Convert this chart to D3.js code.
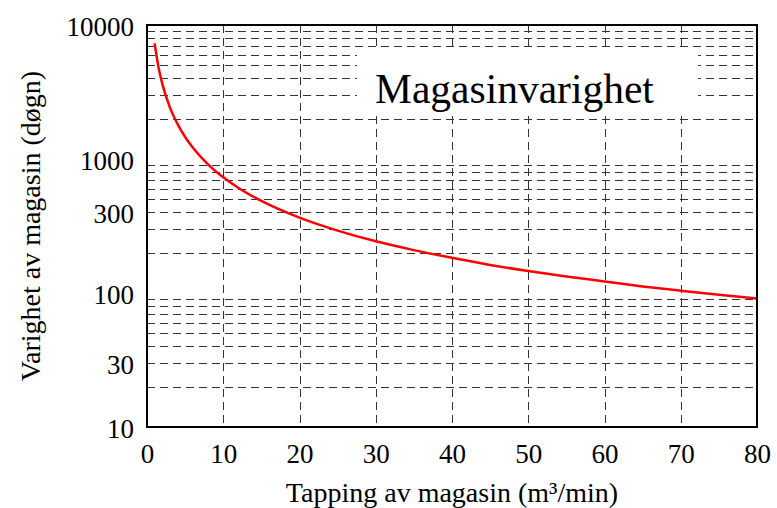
<!DOCTYPE html>
<html>
<head>
<meta charset="utf-8">
<script src="https://cdn.jsdelivr.net/npm/d3@7"></script>
<style>
  html, body { margin: 0; padding: 0; background: #fff; }
  svg { display: block; font-family: "Liberation Serif", "Times New Roman", serif; }
</style>
</head>
<body>
<svg id="chart" width="777" height="508"></svg>
<script>
// ── DATA ─────────────────────────────────────────────────────────────────────
const tapping  = [1, 1.5, 2, 3, 4, 5, 6, 8, 10, 12, 15, 20, 25, 30, 35, 40, 45, 50, 55, 60, 65, 70, 75, 80];
const varighet = [7300, 4870, 3650, 2430, 1830, 1460, 1220, 913, 730, 608, 487, 365, 292, 243, 209, 183, 162, 146, 133, 122, 112, 104, 97, 91];

const xTicks = [0, 10, 20, 30, 40, 50, 60, 70, 80];
const yTicks = [10, 30, 100, 300, 1000, 10000];
const yGrid  = [20, 30, 40, 50, 60, 70, 80, 90,
                200, 300, 400, 500, 600, 700, 800, 900,
                2000, 3000, 4000, 5000, 6000, 7000, 8000, 9000];

const title  = 'Magasinvarighet';
const xLabel = 'Tapping av magasin (m³/min)';
const yLabel = 'Varighet av magasin (døgn)';

// ── SETUP ────────────────────────────────────────────────────────────────────
const svg = d3.select('#chart');
const L = 147, R = 757, T = 25, B = 427;

const x = d3.scaleLinear().domain([0, 80]).range([L, R]);
const y = d3.scaleLog().domain([10, 10000]).range([B, T]);

const grid = svg.append('g').attr('class', 'grid')
  .attr('stroke', '#333').attr('stroke-width', 1)
  .attr('stroke-dasharray', '8,5').attr('fill', 'none');

grid.selectAll('line.h').data(yGrid).join('line').attr('class', 'h')
  .attr('x1', L).attr('x2', R)
  .attr('y1', d => Math.round(y(d)) + 0.5).attr('y2', d => Math.round(y(d)) + 0.5);

grid.selectAll('line.v').data(xTicks.slice(1, -1)).join('line').attr('class', 'v')
  .attr('y1', T).attr('y2', B)
  .attr('x1', d => Math.round(x(d)) + 0.5).attr('x2', d => Math.round(x(d)) + 0.5);

// title box hides the grid behind it
svg.append('rect')
  .attr('x', 357).attr('y', 48).attr('width', 341).attr('height', 68)
  .attr('fill', '#fff');

svg.append('text')
  .attr('x', 375).attr('y', 103)
  .attr('font-size', 41.5).attr('fill', '#000')
  .text(title);

// ── CURVE ────────────────────────────────────────────────────────────────────
const line = d3.line()
  .x((d, i) => x(tapping[i]))
  .y(d => y(d))
  .curve(d3.curveMonotoneX);

svg.append('path')
  .datum(varighet)
  .attr('d', line)
  .attr('fill', 'none')
  .attr('stroke', '#ff0000')
  .attr('stroke-width', 2.5);

// ── FRAME & AXES ─────────────────────────────────────────────────────────────
svg.append('rect')
  .attr('x', L).attr('y', T).attr('width', R - L).attr('height', B - T)
  .attr('fill', 'none').attr('stroke', '#000').attr('stroke-width', 2);

const xAxis = svg.append('g')
  .attr('transform', `translate(0,${B})`)
  .call(d3.axisBottom(x).tickValues(xTicks).tickSize(0).tickPadding(17).tickFormat(d3.format('d')));
xAxis.select('.domain').remove();
xAxis.selectAll('text').attr('font-size', 27).attr('font-family', 'Liberation Serif').attr('fill', '#000');

const yAxis = svg.append('g')
  .attr('transform', `translate(${L},0)`)
  .call(d3.axisLeft(y).tickValues(yTicks).tickSize(0).tickPadding(13).tickFormat(d3.format('d')));
yAxis.select('.domain').remove();
yAxis.selectAll('text').attr('font-size', 27).attr('font-family', 'Liberation Serif').attr('fill', '#000')
  .attr('dy', d => d === 300 ? '-0.25em' : '0.38em');  // the source sets its 300 label a little high

svg.append('text')
  .attr('x', (L + R) / 2).attr('y', 502)
  .attr('text-anchor', 'middle').attr('font-size', 28)
  .text(xLabel);

svg.append('text')
  .attr('transform', `translate(40,${(T + B) / 2}) rotate(-90)`)
  .attr('text-anchor', 'middle').attr('font-size', 28)
  .text(yLabel);
</script>
</body>
</html>
